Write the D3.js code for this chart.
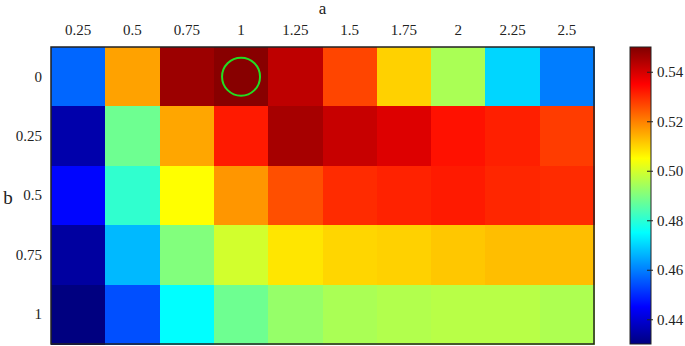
<!DOCTYPE html>
<html>
<head>
<meta charset="utf-8">
<script src="https://cdnjs.cloudflare.com/ajax/libs/d3/7.8.5/d3.min.js"></script>
<style>
  body { margin: 0; background: #fff; }
  text { font-family: "Liberation Serif", "Times New Roman", serif; fill: #222; }
</style>
</head>
<body>
<div id="chart"></div>
<script>
// data
var aLabels = ["0.25", "0.5", "0.75", "1", "1.25", "1.5", "1.75", "2", "2.25", "2.5"];
var bLabels = ["0", "0.25", "0.5", "0.75", "1"];
var row_b0   = [0.457, 0.516, 0.5467, 0.549, 0.5426, 0.5269, 0.5104, 0.495, 0.4702, 0.4597];
var row_b025 = [0.4351, 0.4879, 0.5155, 0.532, 0.5455, 0.5416, 0.539, 0.533, 0.5314, 0.528];
var row_b05  = [0.4456, 0.4806, 0.505, 0.5173, 0.5257, 0.530, 0.531, 0.532, 0.5305, 0.530];
var row_b075 = [0.4338, 0.4668, 0.4903, 0.4997, 0.508, 0.5098, 0.5104, 0.5116, 0.5126, 0.5126];
var row_b1   = [0.430, 0.4543, 0.475, 0.4879, 0.4927, 0.495, 0.496, 0.4966, 0.4966, 0.4955];
var colorTicks = [0.44, 0.46, 0.48, 0.50, 0.52, 0.54];
var marked = { a: "1", b: "0" };

var rows = [row_b0, row_b025, row_b05, row_b075, row_b1];
var cells = [];
rows.forEach(function(r, i) {
    r.forEach(function(v, j) {
        cells.push({ a: aLabels[j], b: bLabels[i], value: v });
    });
});

// jet colormap
function jet(t) {
    t = Math.max(0, Math.min(1, t));
    function ch(x) { return Math.max(0, Math.min(1, 1.5 - Math.abs(4 * t - x))); }
    var r = ch(3), g = ch(2), b = ch(1);
    return d3.rgb(r * 255, g * 255, b * 255).toString();
}

var svgWidth = 685, svgHeight = 346;
var plot = { left: 51, top: 47, right: 594, bottom: 344 };

var svg = d3.select("#chart").append("svg")
    .attr("width", svgWidth)
    .attr("height", svgHeight);

var xScale = d3.scaleBand().domain(aLabels).range([plot.left, plot.right]);
var yScale = d3.scaleBand().domain(bLabels).range([plot.top, plot.bottom]);
var color = d3.scaleSequential(jet).domain([0.43, 0.55]);

svg.append("g").selectAll("rect")
    .data(cells)
    .enter()
    .append("rect")
    .attr("x", d => xScale(d.a))
    .attr("y", d => yScale(d.b))
    .attr("width", xScale.bandwidth() + 0.5)
    .attr("height", yScale.bandwidth() + 0.5)
    .attr("fill", d => color(d.value))
    .attr("shape-rendering", "crispEdges");

svg.append("rect")
    .attr("x", plot.left)
    .attr("y", plot.top)
    .attr("width", plot.right - plot.left)
    .attr("height", plot.bottom - plot.top)
    .attr("fill", "none")
    .attr("stroke", "#222")
    .attr("stroke-width", 1.5);

// marker circle
svg.append("circle")
    .attr("cx", xScale(marked.a) + xScale.bandwidth() / 2)
    .attr("cy", yScale(marked.b) + yScale.bandwidth() / 2)
    .attr("r", 19)
    .attr("fill", "none")
    .attr("stroke", "#22dd22")
    .attr("stroke-width", 2);

// axes
var topAxis = d3.axisTop(xScale).tickSize(0).tickPadding(12);
var gx = svg.append("g").attr("transform", `translate(0, ${plot.top})`).call(topAxis);
gx.select(".domain").remove();
gx.selectAll("text").style("font-size", "15px").attr("fill", "#222");

var leftAxis = d3.axisLeft(yScale).tickSize(0).tickPadding(9);
var gy = svg.append("g").attr("transform", `translate(${plot.left}, 0)`).call(leftAxis);
gy.select(".domain").remove();
gy.selectAll("text").style("font-size", "15px").attr("fill", "#222");

svg.append("text")
    .attr("x", (plot.left + plot.right) / 2)
    .attr("y", 14)
    .attr("text-anchor", "middle")
    .style("font-size", "17px")
    .text("a");

svg.append("text")
    .attr("x", 8)
    .attr("y", 204)
    .attr("text-anchor", "middle")
    .style("font-size", "19px")
    .text("b");

// colorbar
var cb = { x: 630, width: 21, top: 47, bottom: 344 };
var cScale = d3.scaleLinear().domain([0.43, 0.55]).range([cb.bottom, cb.top]);

var defs = svg.append("defs");
var grad = defs.append("linearGradient")
    .attr("id", "jetGrad")
    .attr("x1", "0%").attr("y1", "100%")
    .attr("x2", "0%").attr("y2", "0%");
grad.selectAll("stop")
    .data(d3.range(0, 1.0001, 0.025))
    .enter()
    .append("stop")
    .attr("offset", d => (d * 100) + "%")
    .attr("stop-color", d => jet(d));

svg.append("rect")
    .attr("x", cb.x)
    .attr("y", cb.top)
    .attr("width", cb.width)
    .attr("height", cb.bottom - cb.top)
    .attr("fill", "url(#jetGrad)")
    .attr("stroke", "#222")
    .attr("stroke-width", 1);

var cbAxis = d3.axisRight(cScale)
    .tickValues(colorTicks)
    .tickFormat(d3.format(".2f"))
    .tickSize(0)
    .tickPadding(6);
var gc = svg.append("g").attr("transform", `translate(${cb.x + cb.width}, 0)`).call(cbAxis);
gc.select(".domain").remove();
gc.selectAll("text").style("font-size", "15px").attr("fill", "#222");
gc.selectAll(".tick").append("line")
    .attr("x1", -4).attr("x2", 2)
    .attr("stroke", "#222")
    .attr("stroke-width", 1);
</script>
</body>
</html>
